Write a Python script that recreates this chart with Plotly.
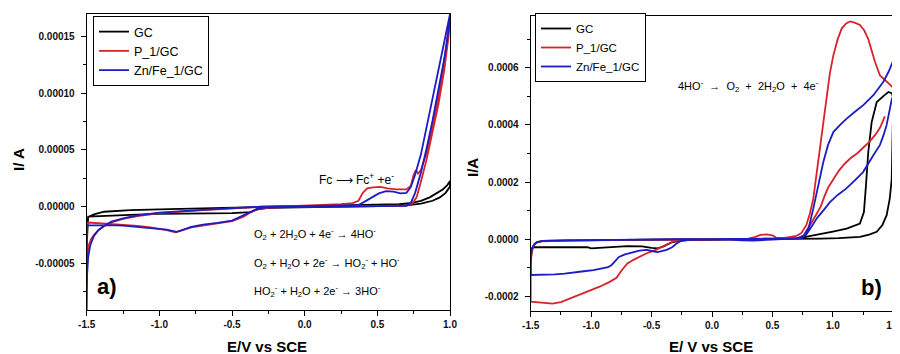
import plotly.graph_objects as go

# ---------------- Panel a data ----------------
gc_a_E = [-1.5, -1.497, -1.49, -1.45, -1.38, -1.3, -1.2, -1.0, -0.8, -0.6, -0.4, -0.2, 0.0, 0.2, 0.4, 0.55,
          0.65, 0.72, 0.8, 0.86, 0.91, 0.95, 0.98, 1.0, 1.0, 0.97, 0.93, 0.88, 0.8, 0.7, 0.5, 0.2, -0.1,
          -0.25, -0.33, -0.37, -0.5, -0.8, -1.0, -1.2, -1.38, -1.45, -1.49, -1.5]
gc_a_I = [-3.5e-5, -1.6e-5, -9.5e-6, -7e-6, -4.7e-6, -4e-6, -3.3e-6, -2.6e-6, -1.9e-6, -1.3e-6, -0.8e-6,
          -0.3e-6, 0.2e-6, 0.6e-6, 1.0e-6, 1.4e-6, 2.0e-6, 2.8e-6, 5.0e-6, 8.0e-6, 1.15e-5, 1.5e-5, 1.85e-5,
          2.25e-5, 1.75e-5, 1.2e-5, 8e-6, 5e-6, 2.5e-6, 1.0e-6, 0.2e-6, -0.2e-6, -0.7e-6, -1.2e-6, -2.5e-6,
          -5e-6, -6e-6, -6e-6, -6.5e-6, -7.5e-6, -8.6e-6, -8.8e-6, -9e-6, -3.5e-5]

p1_a_E = [-1.5, -1.495, -1.485, -1.47, -1.45, -1.42, -1.38, -1.33, -1.25, -1.15, -1.0, -0.85, -0.7, -0.55,
          -0.4, -0.3, -0.1, 0.1, 0.25, 0.33, 0.37, 0.40, 0.43, 0.47, 0.52, 0.57, 0.63, 0.70, 0.73, 0.75,
          0.765, 0.78, 0.80, 0.84, 0.88, 0.92, 0.96, 1.0,
          0.99, 0.96, 0.92, 0.88, 0.84, 0.80, 0.77, 0.74, 0.70, 0.5, 0.2, -0.1, -0.25, -0.32, -0.37, -0.42,
          -0.5, -0.6, -0.7, -0.78, -0.85, -0.89, -0.95, -1.06, -1.15, -1.25, -1.35, -1.45, -1.49, -1.5, -1.5]
p1_a_I = [-5.5e-5, -4.2e-5, -3.4e-5, -2.9e-5, -2.5e-5, -2.1e-5, -1.75e-5, -1.4e-5, -1.1e-5, -8.5e-6, -6e-6,
          -4.5e-6, -3.2e-6, -2.2e-6, -1.2e-6, -0.3e-6, 0.3e-6, 1.2e-6, 2.0e-6, 3.0e-6, 5e-6, 1.2e-5, 1.6e-5,
          1.68e-5, 1.72e-5, 1.6e-5, 1.5e-5, 1.5e-5, 1.8e-5, 2.8e-5, 3.2e-5, 2.9e-5, 3.2e-5, 4.8e-5, 7.2e-5,
          9.8e-5, 1.28e-4, 1.67e-4,
          1.5e-4, 1.2e-4, 9.0e-5, 6.5e-5, 4.2e-5, 2.2e-5, 8e-6, 2.5e-6, 1.0e-6, 0.4e-6, 0.0, -0.3e-6,
          -1.2e-6, -2.5e-6, -5e-6, -9e-6, -1.3e-5, -1.5e-5, -1.65e-5, -1.85e-5, -2.15e-5, -2.28e-5, -2.1e-5,
          -1.85e-5, -1.72e-5, -1.62e-5, -1.5e-5, -1.42e-5, -1.42e-5, -1.5e-5, -5.5e-5]

znfe_a_E = [-1.5, -1.497, -1.49, -1.475, -1.45, -1.42, -1.38, -1.33, -1.25, -1.15, -1.0, -0.85, -0.7, -0.55,
            -0.4, -0.3, 0.0, 0.3, 0.37, 0.41, 0.46, 0.51, 0.56, 0.61, 0.66, 0.70, 0.73, 0.76, 0.80, 0.84,
            0.88, 0.92, 0.96, 1.0,
            0.99, 0.96, 0.92, 0.88, 0.84, 0.80, 0.76, 0.73, 0.70, 0.5, 0.2, -0.1, -0.28, -0.33, -0.38, -0.43,
            -0.5, -0.6, -0.7, -0.78, -0.85, -0.88, -0.95, -1.06, -1.15, -1.25, -1.35, -1.45, -1.5, -1.5]
znfe_a_I = [-9.5e-5, -6e-5, -4.5e-5, -3.4e-5, -2.6e-5, -2.1e-5, -1.7e-5, -1.35e-5, -1.05e-5, -8e-6, -5.5e-6,
            -4e-6, -3e-6, -2e-6, -1e-6, -0.2e-6, 0.2e-6, 0.5e-6, 1.2e-6, 4e-6, 8e-6, 1.15e-5, 1.35e-5, 1.3e-5,
            1.15e-5, 1.2e-5, 1.7e-5, 2.8e-5, 4.6e-5, 7e-5, 9.5e-5, 1.2e-4, 1.45e-4, 1.7e-4,
            1.55e-4, 1.3e-4, 1.02e-4, 7.6e-5, 5.2e-5, 3.0e-5, 1.2e-5, 3e-6, 0.5e-6, 0.0, -0.2e-6, -0.5e-6,
            -1e-6, -2.5e-6, -5.5e-6, -9e-6, -1.25e-5, -1.45e-5, -1.6e-5, -1.8e-5, -2.1e-5, -2.25e-5, -2.05e-5,
            -1.9e-5, -1.78e-5, -1.7e-5, -1.65e-5, -1.65e-5, -1.68e-5, -9.5e-5]

# ---------------- Panel b data ----------------
gc_b_E = [-1.5, -1.495, -1.485, -1.47, -1.45, -1.4, -1.2, -1.0, -0.6, -0.3, 0.0, 0.4, 0.7, 0.9, 1.05, 1.224,
          1.3, 1.363, 1.41, 1.445, 1.47, 1.487, 1.492, 1.495, 1.5,
          1.49, 1.46, 1.43, 1.4, 1.363, 1.321, 1.293, 1.274, 1.257, 1.224, 1.17, 1.114, 1.0, 0.9, 0.8, 0.72,
          0.6, 0.3, 0.0, -0.2, -0.3, -0.34, -0.4, -0.45, -0.5, -0.58, -0.7, -0.8, -0.9, -1.0, -1.03, -1.2,
          -1.4, -1.48, -1.5, -1.5]
gc_b_I = [-8e-5, -5e-5, -3e-5, -1.8e-5, -1e-5, -6e-6, -4e-6, -3e-6, -2e-6, -0.5e-6, 0.0, 0.0, 0.5e-6, 2e-6,
          4e-6, 8e-6, 1.6e-5, 2.6e-5, 5e-5, 8.4e-5, 1.4e-4, 2.1e-4, 3.2e-4, 4.45e-4, 4.9e-4,
          5.1e-4, 5.15e-4, 5.05e-4, 4.95e-4, 4.8e-4, 4.1e-4, 3.05e-4, 1.89e-4, 9.5e-5, 5.5e-5, 4.5e-5,
          3.7e-5, 2.7e-5, 1.8e-5, 1.0e-5, 4e-6, 1e-6, 0.0, -1e-6, -3e-6, -8e-6, -1.2e-5, -2.5e-5, -3.2e-5,
          -3.0e-5, -2.5e-5, -2.4e-5, -2.6e-5, -2.9e-5, -3.2e-5, -2.8e-5, -2.7e-5, -2.7e-5, -2.8e-5, -3.5e-5,
          -8e-5]

p1_b_E = [1.43, 1.39, 1.35, 1.3, 1.25, 1.2, 1.15, 1.1, 1.05, 1.0, 0.96, 0.93, 0.9, 0.86, 0.82, 0.79, 0.76,
          0.72, 0.6, 0.45, 0.3, 0.1, -0.1, -0.25, -0.32, -0.38, -0.43, -0.47, -0.54, -0.6, -0.65, -0.7,
          -0.75, -0.79, -0.85, -0.93, -1.03, -1.1, -1.16, -1.25, -1.32, -1.4, -1.47, -1.5, -1.5, -1.495,
          -1.485, -1.47, -1.45, -1.4, -1.2, -1.0, -0.6, -0.3, 0.0, 0.3, 0.36, 0.4, 0.45, 0.5, 0.53, 0.6,
          0.7, 0.74, 0.78, 0.81, 0.838, 0.865, 0.893, 0.92, 0.949, 0.975, 1.004, 1.04, 1.073, 1.11, 1.142,
          1.18, 1.224, 1.26, 1.293, 1.32, 1.349, 1.39, 1.445, 1.487, 1.5]
p1_b_I = [4.3e-4, 3.9e-4, 3.65e-4, 3.4e-4, 3.2e-4, 3.0e-4, 2.85e-4, 2.65e-4, 2.4e-4, 2.05e-4, 1.8e-4,
          1.5e-4, 1.15e-4, 8.5e-5, 5.5e-5, 3.2e-5, 1.4e-5, 5e-6, 3e-6, 2e-6, 1e-6, 0.0, -1e-6, -3e-6, -8e-6,
          -2e-5, -3.1e-5, -3.8e-5, -4.9e-5, -6e-5, -7.2e-5, -8.5e-5, -1.1e-4, -1.35e-4, -1.5e-4, -1.66e-4,
          -1.83e-4, -1.95e-4, -2.06e-4, -2.2e-4, -2.25e-4, -2.22e-4, -2.18e-4, -2.18e-4, -1.0e-4, -6e-5,
          -3.5e-5, -2e-5, -1.2e-5, -7e-6, -5e-6, -4e-6, -2.5e-6, -0.5e-6, 0.0, 2e-6, 8e-6, 1.5e-5, 1.7e-5,
          1.4e-5, 6e-6, 5e-6, 1.2e-5, 2.2e-5, 4.9e-5, 9e-5, 1.42e-4, 2.3e-4, 3.29e-4, 4.2e-4, 5.04e-4,
          5.8e-4, 6.43e-4, 7.0e-4, 7.37e-4, 7.55e-4, 7.62e-4, 7.58e-4, 7.5e-4, 7.3e-4, 7.0e-4, 6.6e-4,
          6.2e-4, 5.73e-4, 5.5e-4, 5.35e-4, 5.3e-4]

znfe_b_E = [1.49, 1.465, 1.445, 1.42, 1.39, 1.335, 1.29, 1.25, 1.18, 1.11, 1.04, 0.976, 0.92, 0.87, 0.82,
            0.78, 0.74, 0.6, 0.34, 0.25, 0.1, -0.1, -0.25, -0.29, -0.33, -0.375, -0.42, -0.45, -0.49, -0.54,
            -0.6, -0.65, -0.72, -0.77, -0.8, -0.83, -0.86, -0.92, -0.98, -1.06, -1.14, -1.22, -1.3, -1.4,
            -1.47, -1.5, -1.5, -1.495, -1.485, -1.47, -1.45, -1.4, -1.3, -1.1, -0.8, -0.5, -0.3, 0.0, 0.3,
            0.5, 0.7, 0.76, 0.8, 0.838, 0.88, 0.921, 0.96, 1.004, 1.06, 1.114, 1.18, 1.252, 1.335, 1.417,
            1.46, 1.5]
znfe_b_I = [4.95e-4, 4.4e-4, 4.0e-4, 3.65e-4, 3.3e-4, 2.94e-4, 2.6e-4, 2.35e-4, 2.05e-4, 1.77e-4, 1.55e-4,
            1.3e-4, 1.0e-4, 7.5e-5, 4.2e-5, 1.6e-5, 4e-6, 1e-6, -5e-6, -4e-6, 0.0, -1e-6, -4e-6, -1.4e-5,
            -2.8e-5, -3.7e-5, -4.2e-5, -4.5e-5, -4.2e-5, -3.7e-5, -4.0e-5, -4.6e-5, -5.3e-5, -6.2e-5,
            -7.5e-5, -9e-5, -9.8e-5, -1.03e-4, -1.08e-4, -1.12e-4, -1.17e-4, -1.2e-4, -1.23e-4, -1.24e-4,
            -1.25e-4, -1.25e-4, -8e-5, -4.5e-5, -2.8e-5, -1.8e-5, -1.1e-5, -6e-6, -5e-6, -3.5e-6, -2.5e-6,
            -1.5e-6, 0.0, 0.0, 1e-6, 2e-6, 3e-6, 1.2e-5, 4e-5, 1.07e-4, 1.9e-4, 2.7e-4, 3.3e-4, 3.75e-4,
            4.0e-4, 4.22e-4, 4.45e-4, 4.69e-4, 5.04e-4, 5.5e-4, 5.85e-4, 6.25e-4]

# ---------------- Tick labels ----------------
xa_vals = [-1.5, -1.0, -0.5, 0.0, 0.5, 1.0]
xa_text = ["-1.5", "-1.0", "-0.5", "0.0", "0.5", "1.0"]
ya_vals = [-0.00005, 0.0, 0.00005, 0.00010, 0.00015]
ya_text = ["-0.00005", "0.00000", "0.00005", "0.00010", "0.00015"]
xb_vals = [-1.5, -1.0, -0.5, 0.0, 0.5, 1.0, 1.5]
xb_text = ["-1.5", "-1.0", "-0.5", "0.0", "0.5", "1.0", "1.5"]
yb_vals = [-0.0002, 0.0, 0.0002, 0.0004, 0.0006]
yb_text = ["-0.0002", "0.0000", "0.0002", "0.0004", "0.0006"]
xa_minor = [-1.25, -0.75, -0.25, 0.25, 0.75]
ya_minor = [-0.000075, -0.000025, 0.000025, 0.000075, 0.000125]
xb_minor = [-1.25, -0.75, -0.25, 0.25, 0.75, 1.25]
yb_minor = [-0.0001, 0.0001, 0.0003, 0.0005, 0.0007]

series_names = ["GC", "P_1/GC", "Zn/Fe_1/GC"]
colors = ["#000000", "#d8232a", "#1c1cc4"]

# The page body has an 8 px margin: the figure is drawn from (8, 8) in the window.
OFF = 8
W, H = 900 - OFF, 354 - OFF
FONT = "Arial, Liberation Sans, sans-serif"

fig = go.Figure()
panel_a = [(gc_a_E, gc_a_I), (p1_a_E, p1_a_I), (znfe_a_E, znfe_a_I)]
panel_b = [(gc_b_E, gc_b_I), (p1_b_E, p1_b_I), (znfe_b_E, znfe_b_I)]
for (E, I), name, c in zip(panel_a, series_names, colors):
    fig.add_trace(go.Scatter(x=E, y=I, mode="lines", name=name, line=dict(color=c, width=1.8),
                             xaxis="x", yaxis="y", legend="legend"))
for (E, I), name, c in zip(panel_b, series_names, colors):
    fig.add_trace(go.Scatter(x=E, y=I, mode="lines", name=name, line=dict(color=c, width=1.8),
                             xaxis="x2", yaxis="y2", legend="legend2"))


def px(x):
    return (x - OFF) / W


def py(y):
    return 1 - (y - OFF) / H


def axis(domain, rng, vals, text, minor, anchor, standoff=None):
    d = dict(domain=domain, range=rng, anchor=anchor, showline=True, linecolor="black", linewidth=1,
             mirror=True, ticks="outside", ticklen=5, tickwidth=1, tickcolor="black",
             tickmode="array", tickvals=vals, ticktext=text, ticklabeloverflow="allow",
             tickfont=dict(family=FONT, size=10, color="#111111", weight="bold"),
             minor=dict(ticks="outside", ticklen=3, tickwidth=1, tickcolor="black", tickvals=minor),
             showgrid=False, zeroline=False, automargin=False)
    if standoff is not None:
        d["ticklabelstandoff"] = standoff
    return d


fig.update_layout(
    width=W, height=H, margin=dict(l=0, r=0, t=0, b=0),
    paper_bgcolor="white", plot_bgcolor="white",
    font=dict(family=FONT, color="black"),
    xaxis=axis([px(86.7), px(450)], [-1.5, 1.0], xa_vals, xa_text, xa_minor, "y"),
    yaxis=axis([py(310), py(14)], [-9.15e-5, 1.70e-4], ya_vals, ya_text, ya_minor, "x", 4),
    xaxis2=axis([px(530.7), px(893.3)], [-1.5, 1.5], xb_vals, xb_text, xb_minor, "y2"),
    yaxis2=axis([py(310.7), py(16)], [-2.5e-4, 7.81e-4], yb_vals, yb_text, yb_minor, "x2", 4),
    legend=dict(x=px(93), y=py(16), xanchor="left", yanchor="top", bgcolor="white",
                bordercolor="black", borderwidth=1, font=dict(family=FONT, size=12.5),
                itemwidth=30, tracegroupgap=0),
    legend2=dict(x=px(535), y=py(13), xanchor="left", yanchor="top", bgcolor="white",
                 bordercolor="black", borderwidth=1, font=dict(family=FONT, size=11.5),
                 itemwidth=30, tracegroupgap=0),
)

ann = []


def add(text, x, y, size, xanchor="left", bold=False, angle=0):
    ann.append(dict(text=("<b>%s</b>" % text) if bold else text, x=px(x), y=py(y), xref="paper",
                    yref="paper", xanchor=xanchor, yanchor="middle", showarrow=False, textangle=angle,
                    font=dict(family=FONT, size=size, color="black")))


# axis titles
add("I/ A", 18, 160, 15, xanchor="center", bold=True, angle=-90)
add("E/V vs SCE", 267, 346, 15, xanchor="center", bold=True)
add("I/A", 472, 167, 15, xanchor="center", bold=True, angle=-90)
add("E/ V vs SCE", 711, 346, 15, xanchor="center", bold=True)
# panel labels
add("a)", 107, 286, 22, xanchor="center", bold=True)
add("b)", 871, 287, 22, xanchor="center", bold=True)
# reactions
add("Fc ⟶ Fc<sup>+</sup> +e<sup>-</sup>", 317, 179, 12)
add("O<sub>2</sub> + 2H<sub>2</sub>O + 4e<sup>-</sup> → 4HO<sup>-</sup>", 252, 234, 11)
add("O<sub>2</sub> + H<sub>2</sub>O + 2e<sup>-</sup> → HO<sub>2</sub><sup>-</sup> + HO<sup>-</sup>", 252, 263, 11)
add("HO<sub>2</sub><sup>-</sup> + H<sub>2</sub>O + 2e<sup>-</sup> → 3HO<sup>-</sup>", 252, 291, 11)
add("4HO<sup>-</sup>  →  O<sub>2</sub>  +  2H<sub>2</sub>O  +  4e<sup>-</sup>", 676, 86, 11)

fig.update_layout(annotations=ann)
fig.write_html("out.html")
